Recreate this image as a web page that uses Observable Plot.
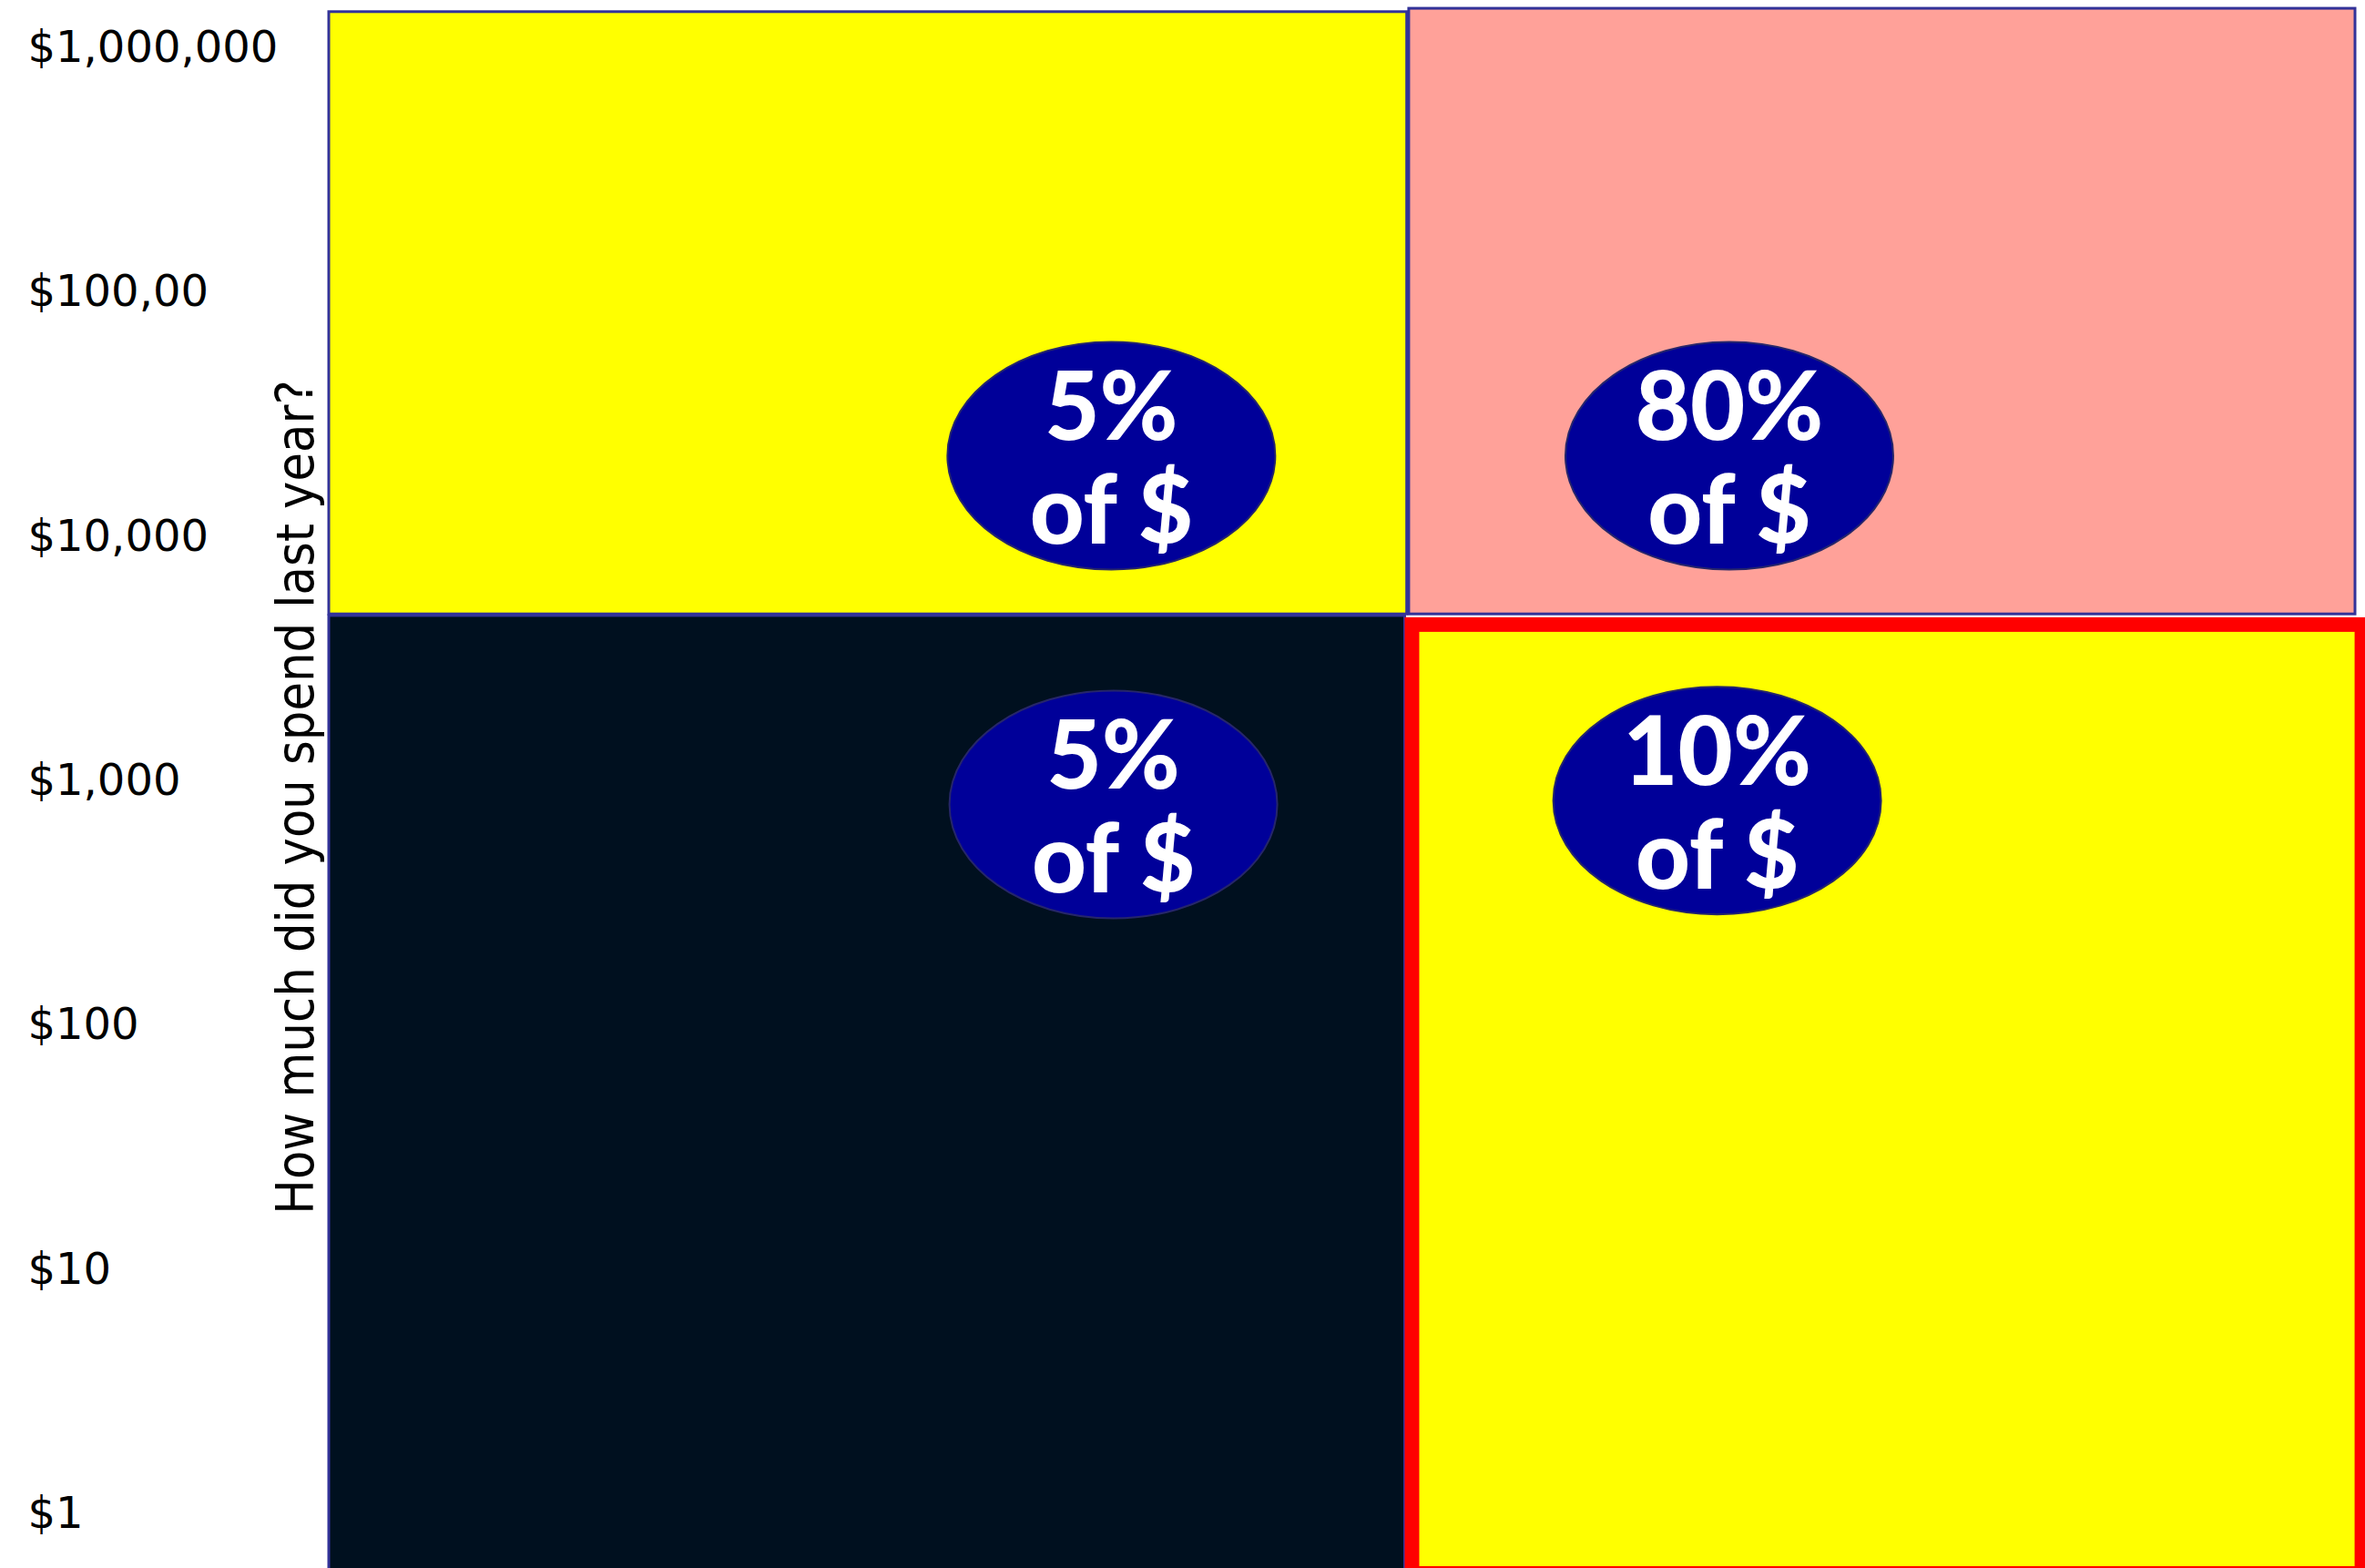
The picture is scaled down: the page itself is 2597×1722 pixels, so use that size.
<!DOCTYPE html>
<html>
<head>
<meta charset="utf-8">
<script src="https://cdn.jsdelivr.net/npm/d3@7"></script>
<script src="https://cdn.jsdelivr.net/npm/@observablehq/plot@0.6"></script>
<style>
  html, body { margin: 0; padding: 0; background: #ffffff; }
  #chart svg { display: block; }
</style>
</head>
<body>
<div id="chart"></div>
<script>
// ---- Data ----
// Quadrants (drawn in this order)
const quadrantNames = ["Low spend / left", "High spend / left", "High spend / right", "Low spend / right"];
const quadrantX1 = [0, 0, 53.3, 53.1];
const quadrantX2 = [53.1, 53.2, 100, 100.7];
const quadrantY1 = [0.5, 4800, 4800, 0.53];      // lower spend bound ($)
const quadrantY2 = [4730, 1.40e6, 1.445e6, 4650]; // upper spend bound ($)

// Share-of-revenue annotations
const shareLabels = ["5%", "80%", "5%", "10%"];
const shareX = [38.6, 69.1, 38.7, 68.5];
const shareY = [21400, 21400, 800, 830];

// Y axis ticks
const tickValues = [1e6, 1e5, 1e4, 1e3, 100, 10, 1];
const tickLabels = ["$1,000,000", "$100,00", "$10,000", "$1,000", "$100", "$10", "$1"];

const yTitle = "How much did you spend last year?";

// ---- Styles ----
const quadrantColors = ["#00101f", "#ffff00", "#ffa199", "#ffff00"];

// Ellipse symbol (aspect ratio ~1.44)
const ellipseSymbol = {
  draw(context, size) {
    const ry = Math.sqrt(size / Math.PI);
    const rx = ry * 1.44;
    const k = 0.5523;
    context.moveTo(rx, 0);
    context.bezierCurveTo(rx, k * ry, k * rx, ry, 0, ry);
    context.bezierCurveTo(-k * rx, ry, -rx, k * ry, -rx, 0);
    context.bezierCurveTo(-rx, -k * ry, -k * rx, -ry, 0, -ry);
    context.bezierCurveTo(k * rx, -ry, rx, -k * ry, rx, 0);
    context.closePath();
  }
};

const qIdx = d3.range(quadrantNames.length);
const sIdx = d3.range(shareLabels.length);

const plot = Plot.plot({
  width: 2597,
  height: 1722,
  marginLeft: 361,
  marginRight: 11,
  marginTop: 52,
  marginBottom: 60,
  x: {domain: [0, 100], axis: null},
  y: {type: "log", domain: [1, 1e6], axis: null},
  style: {background: "#ffffff", overflow: "visible"},
  marks: [
    Plot.rect(qIdx.slice(0, 3), {
      x1: i => quadrantX1[i], x2: i => quadrantX2[i],
      y1: i => quadrantY1[i], y2: i => quadrantY2[i],
      fill: i => quadrantColors[i],
      stroke: "#333399",
      strokeWidth: 3
    }),
    Plot.rect(qIdx.slice(3), {
      x1: i => quadrantX1[i], x2: i => quadrantX2[i],
      y1: i => quadrantY1[i], y2: i => quadrantY2[i],
      fill: i => quadrantColors[i],
      stroke: "#ff0000",
      strokeWidth: 16,
      inset: 8
    }),
    Plot.dot(sIdx, {
      x: i => shareX[i], y: i => shareY[i],
      symbol: ellipseSymbol,
      r: 125,
      fill: "#000099",
      stroke: "#26266a",
      strokeWidth: 2
    }),
    Plot.text(sIdx, {
      x: i => shareX[i], y: i => shareY[i],
      text: i => `${shareLabels[i]}\nof $`,
      fill: "#ffffff",
      fontSize: 104,
      fontWeight: 900,
      fontFamily: "Lato, 'Open Sans', sans-serif",
      lineHeight: 1.1,
      dy: 3
    }),
    Plot.text(tickValues, {
      y: d => d,
      text: (d, i) => tickLabels[i],
      frameAnchor: "left",
      textAnchor: "start",
      dx: -331,
      fontSize: 48,
      fontFamily: "'DejaVu Sans', sans-serif",
      fill: "#000000"
    }),
    Plot.text([yTitle], {
      text: d => d,
      frameAnchor: "left",
      textAnchor: "middle",
      rotate: -90,
      lineAnchor: "bottom",
      dx: -18,
      dy: 18,
      fontSize: 57,
      fontFamily: "'DejaVu Sans Condensed', 'DejaVu Sans', sans-serif",
      fill: "#000000"
    })
  ]
});

document.getElementById("chart").appendChild(plot);
</script>
</body>
</html>
